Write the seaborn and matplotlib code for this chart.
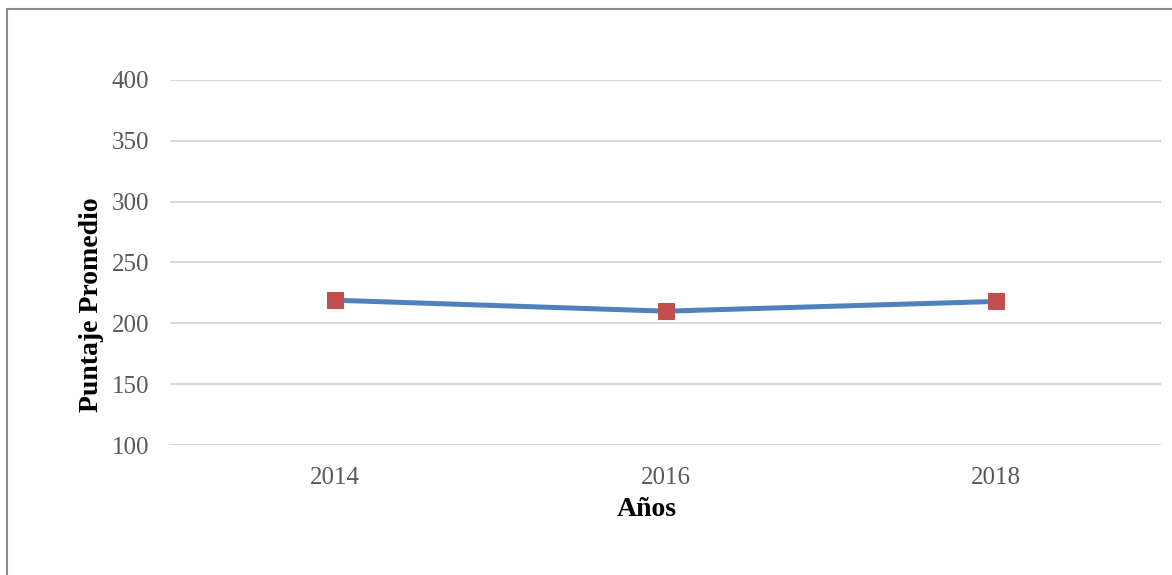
import matplotlib
matplotlib.use("Agg")
import matplotlib.pyplot as plt
from matplotlib.patches import Rectangle
import pandas as pd
import seaborn as sns

# ── data ────────────────────────────────────────────────────────────────────
years  = ["2014", "2016", "2018"]
scores = [219, 210, 218]

df = pd.DataFrame({"Años": years, "Puntaje": scores})

sns.set_theme(style="white")
plt.rcParams["font.family"] = ["Liberation Serif", "DejaVu Serif"]

fig = plt.figure(figsize=(11.72, 5.75), dpi=100)
ax = fig.add_axes([170 / 1172, 1 - 445 / 575, 991 / 1172, 365 / 575])

sns.lineplot(data=df, x="Años", y="Puntaje", ax=ax, sort=False,
             color="#4F81BD", linewidth=3.6, marker="s", markersize=11,
             markerfacecolor="#C0504D", markeredgecolor="#C0504D", zorder=3)

ax.set_ylim(100, 400)
ax.set_yticks(range(100, 401, 50))
ax.set_xlim(-0.5, 2.5)
ax.yaxis.grid(True, color="#D9D9D9", linewidth=1.5)
ax.xaxis.grid(False)
for s in ax.spines.values():
    s.set_visible(False)
ax.tick_params(axis="both", length=0, labelsize=18, labelcolor="#595959")
ax.tick_params(axis="y", pad=15)
ax.tick_params(axis="x", pad=16)

ax.set_xlabel("Años", fontsize=20, fontweight="bold", color="black")
ax.set_ylabel("Puntaje Promedio", fontsize=20, fontweight="bold", color="black")
# labels sit a little off-centre in the original
ax.xaxis.set_label_coords(477 / 991, -52 / 365)
ax.yaxis.set_label_coords(-66 / 991, 140 / 365)

# chart-area frame (right and bottom edges fall outside the crop)
fig.patches.append(Rectangle((7 / 1172, -0.1), 1.2, 1.1 - 9 / 575,
                             transform=fig.transFigure, fill=False,
                             edgecolor="#8C8C8C", linewidth=1.5))

fig.savefig("out.png", dpi=100)
